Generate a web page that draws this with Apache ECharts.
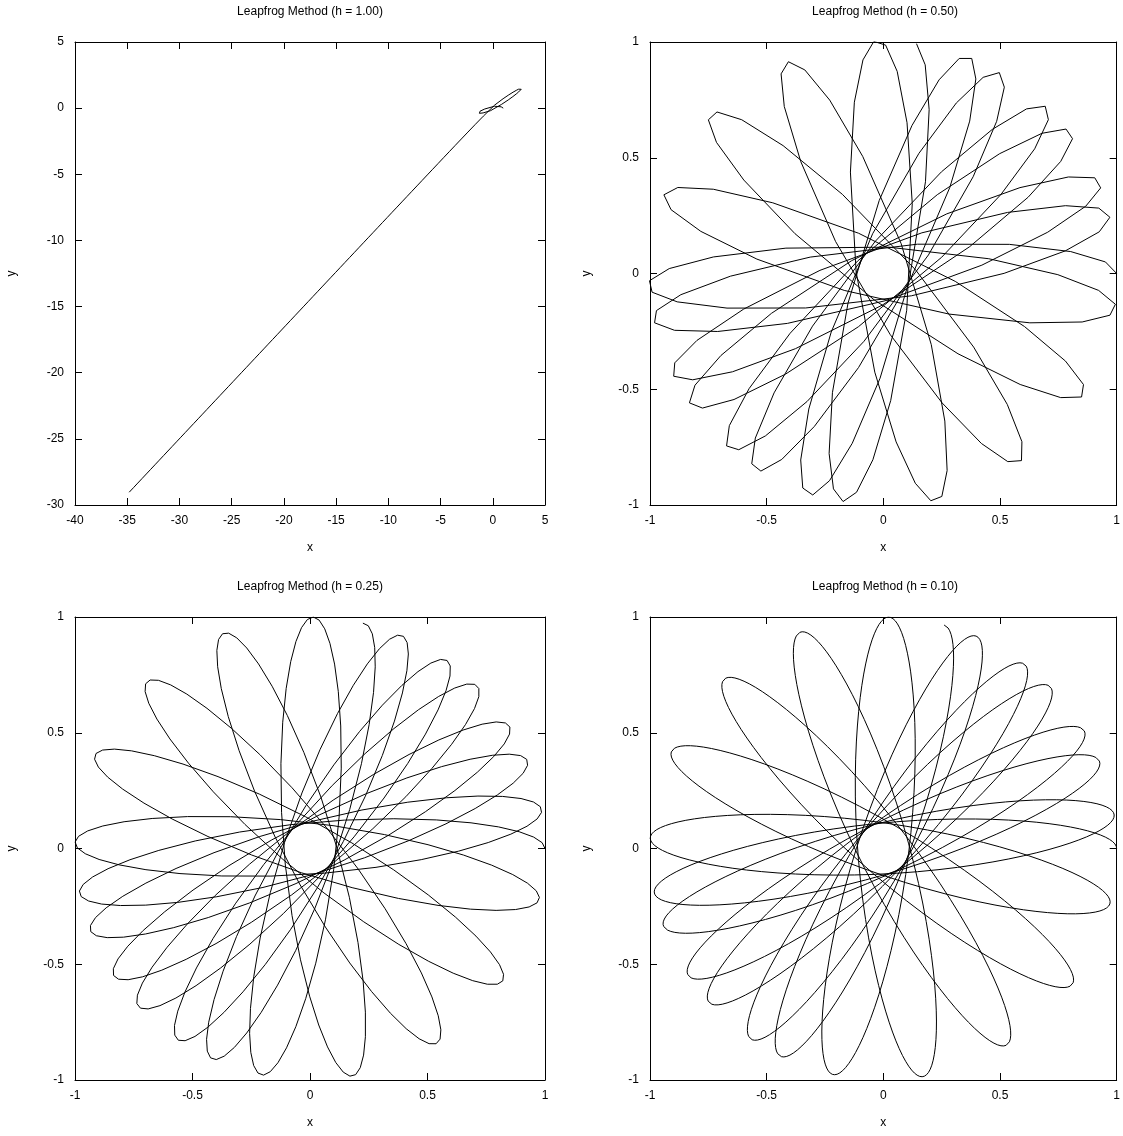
<!DOCTYPE html>
<html>
<head>
<meta charset="utf-8">
<title>Leapfrog Method</title>
<script src="https://cdn.jsdelivr.net/npm/echarts@6/dist/echarts.min.js"></script>
<style>
  html, body { margin: 0; padding: 0; background: #fff; }
  #chart { width: 1123px; height: 1136px; }
</style>
</head>
<body>
<div id="chart"></div>
<script>
// ---- chart data ----
// step sizes of the four panels (top-left, top-right, bottom-left, bottom-right)
const stepSizes = [1.00, 0.50, 0.25, 0.10];
const panelTitles = [
  'Leapfrog Method (h = 1.00)',
  'Leapfrog Method (h = 0.50)',
  'Leapfrog Method (h = 0.25)',
  'Leapfrog Method (h = 0.10)'
];
// orbit problem: start state [x0, y0, vx0, vy0], softened central attraction [strength, softening], end time
const initialState = [1.0, 0.0, 0.0, 0.1];
const attraction = [0.71, 0.71];
const endTime = 100;
// axis tick values
const wideXTicks = [-40, -35, -30, -25, -20, -15, -10, -5, 0, 5];
const wideYTicks = [-30, -25, -20, -15, -10, -5, 0, 5];
const unitTicks = [-1, -0.5, 0, 0.5, 1];
const panelXTicks = [wideXTicks, unitTicks, unitTicks, unitTicks];
const panelYTicks = [wideYTicks, unitTicks, unitTicks, unitTicks];

// ---- leapfrog (kick-drift-kick) trajectory for one step size ----
function leapfrog(h) {
  let [x, y, vx, vy] = initialState;
  const [strength, soft] = attraction;
  const acc = (px, py) => {
    const g = strength * Math.pow(px * px + py * py + soft * soft, -1.5);
    return [-g * px, -g * py];
  };
  const pts = [[x, y]];
  const n = Math.round(endTime / h);
  let a = acc(x, y);
  for (let i = 0; i < n; i++) {
    vx += 0.5 * h * a[0]; vy += 0.5 * h * a[1];
    x += h * vx; y += h * vy;
    a = acc(x, y);
    vx += 0.5 * h * a[0]; vy += 0.5 * h * a[1];
    pts.push([x, y]);
  }
  return pts;
}

// ---- layout ----
const FONT = '"Liberation Sans", Arial, Helvetica, sans-serif';
const grids = [
  { left: 75,  top: 42,  width: 470, height: 463 },
  { left: 650, top: 42,  width: 470, height: 463 },
  { left: 75,  top: 617, width: 470, height: 463 },
  { left: 650, top: 617, width: 470, height: 463 }
];
const black = '#000';
const xAxes = [], yAxes = [], series = [], graphics = [];

grids.forEach((g, i) => {
  const xt = panelXTicks[i], yt = panelYTicks[i];
  const xBase = {
    gridIndex: i, type: 'value',
    min: xt[0], max: xt[xt.length - 1], interval: xt[1] - xt[0],
    splitLine: { show: false },
    axisLine: { show: true, onZero: false, lineStyle: { color: black, width: 1 } },
    axisTick: { show: true, inside: true, length: 7, lineStyle: { color: black, width: 1 } }
  };
  xAxes.push(Object.assign({}, xBase, {
    position: 'bottom',
    axisLabel: { color: black, fontSize: 12, fontFamily: FONT, margin: 10 },
    name: 'x', nameLocation: 'middle', nameGap: 37,
    nameTextStyle: { color: black, fontSize: 12, fontFamily: FONT }
  }));
  xAxes.push(Object.assign({}, xBase, { position: 'top', axisLabel: { show: false } }));

  const yBase = {
    gridIndex: i, type: 'value',
    min: yt[0], max: yt[yt.length - 1], interval: yt[1] - yt[0],
    splitLine: { show: false },
    axisLine: { show: true, onZero: false, lineStyle: { color: black, width: 1 } },
    axisTick: { show: true, inside: true, length: 7, lineStyle: { color: black, width: 1 } }
  };
  yAxes.push(Object.assign({}, yBase, {
    position: 'left',
    axisLabel: { color: black, fontSize: 12, fontFamily: FONT, margin: 11 },
    name: 'y', nameLocation: 'middle', nameGap: 57, nameRotate: 90,
    nameTextStyle: { color: black, fontSize: 12, fontFamily: FONT }
  }));
  yAxes.push(Object.assign({}, yBase, { position: 'right', axisLabel: { show: false } }));

  series.push({
    type: 'line',
    xAxisIndex: 2 * i, yAxisIndex: 2 * i,
    data: leapfrog(stepSizes[i]),
    showSymbol: false, symbol: 'none',
    lineStyle: { color: black, width: 1 },
    clip: true,
    animation: false
  });

  graphics.push({
    type: 'text',
    x: g.left + g.width / 2, y: g.top - 30,
    style: {
      text: panelTitles[i], align: 'center', verticalAlign: 'middle',
      fontSize: 12, fontFamily: FONT, fill: black
    }
  });
});

const chart = echarts.init(document.getElementById('chart'), null, { renderer: 'canvas' });
chart.setOption({
  backgroundColor: '#fff',
  animation: false,
  grid: grids,
  xAxis: xAxes,
  yAxis: yAxes,
  series: series,
  graphic: graphics
});
</script>
</body>
</html>
